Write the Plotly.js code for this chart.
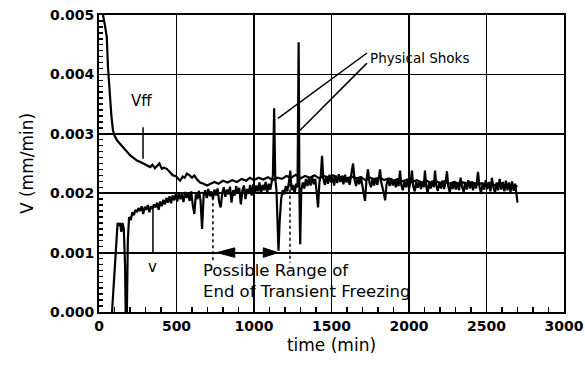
<!DOCTYPE html>
<html>
<head>
<meta charset="utf-8">
<script src="https://cdn.plot.ly/plotly-3.0.1.min.js"></script>
<style>
  html, body { margin: 0; padding: 0; background: #fff; }
  #chart { width: 585px; height: 371px; }
</style>
</head>
<body>
<div id="chart"></div>
<script>
// Freezing-front velocity Vff (mm/min) versus time (min)
const vffTime = [0, 15, 26, 40, 50, 58, 65, 71, 80, 90, 100, 116, 135, 155, 175, 200, 220, 245, 270, 290,
  310, 330, 345, 360, 375, 390, 405, 420, 437, 455, 477, 495, 510, 523, 540, 553, 567, 585, 600, 615,
  630, 652, 675, 697, 720, 745, 770, 800, 830, 860, 890, 920, 950, 974, 1000, 1030, 1060, 1090, 1120, 1150,
  1180, 1210, 1240, 1270, 1300, 1330, 1360, 1390, 1420, 1450, 1480, 1510, 1540, 1570, 1600, 1630, 1660, 1690,
  1720, 1750, 1780, 1810, 1840, 1870, 1900, 1930, 1960, 1990, 2020, 2050, 2080, 2110, 2140, 2170, 2200, 2230,
  2260, 2290, 2320, 2350, 2380, 2410, 2440, 2470, 2500, 2530, 2560, 2590, 2620, 2650, 2680, 2700];
const vffValue = [0.0052, 0.0051, 0.0050, 0.0048, 0.00463, 0.00412, 0.0038, 0.00356, 0.0033, 0.00306, 0.00297,
  0.00289, 0.00283, 0.00277, 0.00272, 0.00264, 0.0026, 0.00255, 0.00252, 0.00249,
  0.00247, 0.00244, 0.00248, 0.00242, 0.00246, 0.0025, 0.00241, 0.00243, 0.00241, 0.00236, 0.0023, 0.00229,
  0.00225, 0.00221, 0.00228, 0.00226, 0.00233, 0.0023, 0.00226, 0.0023,
  0.00224, 0.00218, 0.00216, 0.00213, 0.00216, 0.00219, 0.00216, 0.00221, 0.00218, 0.00222, 0.00219, 0.00224,
  0.00221, 0.00226, 0.00222, 0.00226, 0.00223, 0.00227, 0.00222, 0.00226,
  0.00224, 0.00229, 0.00226, 0.00231, 0.00225, 0.00229, 0.00226, 0.0023, 0.00225, 0.00229, 0.00226, 0.0023,
  0.00225, 0.00228, 0.00224, 0.00228, 0.00225, 0.00227,
  0.00222, 0.00226, 0.00223, 0.00227, 0.00222, 0.00225, 0.00221, 0.00224, 0.0022, 0.00223, 0.00219, 0.00222,
  0.00218, 0.00221, 0.00218, 0.00221, 0.00217, 0.0022,
  0.00216, 0.00219, 0.00216, 0.00218, 0.00215, 0.00218, 0.00214, 0.00217, 0.00214, 0.00216, 0.00213, 0.00215,
  0.00212, 0.00214, 0.00211, 0.00212];

// Measured velocity V (mm/min) versus time (min)
const vTime = [84, 100, 112, 120, 128, 136, 144, 152, 160, 168, 172, 180, 186, 194, 205, 215, 225, 235, 245, 255,
  265, 275, 285, 295, 305, 315, 325, 335, 345, 355, 365, 375, 385, 395, 405, 415, 425, 435, 445, 455,
  465, 475, 485, 495, 505, 515, 525, 535, 545, 555, 565, 575, 585, 595, 605, 615, 625, 635, 645, 655,
  665, 675, 685, 695, 705, 715, 725, 735, 745, 755, 765, 775, 785, 795, 805, 815, 825, 835, 845, 855,
  865, 875, 885, 895, 905, 915, 925, 935, 945, 955, 965, 975, 985, 995, 1005, 1015, 1025, 1035, 1045, 1055,
  1065, 1075, 1085, 1095, 1105, 1115, 1122, 1130, 1137, 1145, 1152, 1158, 1165, 1175, 1185, 1195, 1205, 1215, 1225, 1234,
  1242, 1252, 1262, 1272, 1281, 1288, 1293, 1298, 1305, 1315, 1325, 1335, 1345, 1355, 1365, 1375, 1385, 1395, 1405, 1413,
  1422, 1431, 1439, 1447, 1457, 1467, 1477, 1487, 1497, 1507, 1517, 1527, 1537, 1547, 1557, 1567, 1577, 1587, 1597, 1607,
  1617, 1627, 1639, 1649, 1659, 1669, 1679, 1689, 1699, 1708, 1716, 1725, 1735, 1745, 1755, 1765, 1775, 1785, 1795, 1805,
  1813, 1821, 1830, 1838, 1846, 1855, 1865, 1875, 1885, 1895, 1905, 1915, 1925, 1933, 1942, 1950, 1960, 1970, 1980, 1990,
  2000, 2010, 2019, 2027, 2037, 2047, 2057, 2067, 2077, 2087, 2095, 2103, 2111, 2120, 2130, 2140, 2150, 2160, 2168, 2176,
  2186, 2196, 2206, 2216, 2226, 2236, 2245, 2253, 2263, 2273, 2283, 2293, 2303, 2313, 2323, 2333, 2343, 2353, 2363, 2373,
  2383, 2393, 2403, 2413, 2423, 2433, 2445, 2455, 2465, 2475, 2485, 2495, 2505, 2515, 2525, 2535, 2545, 2555, 2565, 2575,
  2585, 2595, 2605, 2615, 2625, 2635, 2645, 2655, 2665, 2675, 2685, 2692, 2700];
const vValue = [0, 0.0006, 0.0011, 0.0015, 0.00145, 0.0015, 0.00135, 0.0015, 0.0014, 0.0008, 0, 0, 0.0012, 0.0016,
  0.00155, 0.00168, 0.00163, 0.00172, 0.00168, 0.00175,
  0.0017, 0.00178, 0.00165, 0.00177, 0.00172, 0.0018, 0.00168, 0.00178, 0.00174, 0.00181, 0.00176, 0.00184,
  0.00172, 0.00186, 0.00178, 0.00189, 0.00181, 0.00192, 0.00184, 0.00195,
  0.00183, 0.00196, 0.00188, 0.00199, 0.00186, 0.00201, 0.0019, 0.00198, 0.00185, 0.00202, 0.00192, 0.002,
  0.00187, 0.00203, 0.0018, 0.00165, 0.00198, 0.0019, 0.00204, 0.00188,
  0.0014, 0.00196, 0.00205, 0.00192, 0.00207, 0.00195, 0.00203, 0.0019, 0.00206, 0.00196, 0.00208, 0.00185,
  0.00176, 0.002, 0.0021, 0.00194, 0.00206, 0.00198, 0.00211, 0.00184,
  0.00205, 0.00196, 0.00212, 0.00199, 0.00209, 0.00181, 0.00204, 0.00213, 0.0019, 0.00207, 0.00199, 0.00214,
  0.00196, 0.00215, 0.002, 0.00213, 0.00203, 0.00218, 0.00199, 0.00214,
  0.00205, 0.00219, 0.00201, 0.00216, 0.00206, 0.0022, 0.0023, 0.00343, 0.00225, 0.00205, 0.0015, 0.00103,
  0.0015, 0.0019, 0.00205, 0.00198, 0.00212, 0.00203, 0.00218, 0.00238,
  0.00205, 0.00214, 0.002, 0.00216, 0.0021, 0.00454, 0.002, 0.00114, 0.00205, 0.00218, 0.00208, 0.00224,
  0.00212, 0.00226, 0.00213, 0.00228, 0.00215, 0.00224, 0.002, 0.00176,
  0.00218, 0.0023, 0.00263, 0.00225, 0.00214, 0.00229, 0.00216, 0.00231, 0.00218, 0.00227, 0.00213, 0.0023,
  0.00217, 0.00232, 0.00219, 0.00228, 0.00215, 0.00231, 0.00218, 0.00227,
  0.00214, 0.00232, 0.0025, 0.00222, 0.00212, 0.00226, 0.00215, 0.00228, 0.00214, 0.00205, 0.00187, 0.0022,
  0.0024, 0.00218, 0.0021, 0.00224, 0.00213, 0.00226, 0.00214, 0.00225,
  0.0024, 0.00218, 0.0021, 0.002, 0.00188, 0.00215, 0.00223, 0.00212, 0.00225, 0.00213, 0.00222, 0.0021,
  0.00224, 0.00212, 0.00238, 0.00214, 0.00205, 0.0022, 0.0021, 0.00222,
  0.00208, 0.00218, 0.00238, 0.00212, 0.00203, 0.00219, 0.00209, 0.00221, 0.00207, 0.0022, 0.0021, 0.00238,
  0.00212, 0.002, 0.00218, 0.00208, 0.00221, 0.0021, 0.00238, 0.00213,
  0.00204, 0.00219, 0.00208, 0.00221, 0.00207, 0.00218, 0.00237, 0.00212, 0.00201, 0.00218, 0.00207, 0.0022,
  0.00206, 0.00219, 0.00205, 0.00226, 0.0021, 0.00202, 0.00219, 0.00206,
  0.00222, 0.00208, 0.0022, 0.00205, 0.00218, 0.00208, 0.00236, 0.00211, 0.002, 0.00217, 0.00206, 0.00222,
  0.00207, 0.00219, 0.00203, 0.00226, 0.00209, 0.00201, 0.00218, 0.00205,
  0.00224, 0.00206, 0.00219, 0.00203, 0.00221, 0.00205, 0.00218, 0.00202, 0.0022, 0.00204, 0.00216, 0.002, 0.00184];

// Axis ticks: major labels and minor tick spacing
const xTicks = [0, 500, 1000, 1500, 2000, 2500, 3000];
const yTicks = [0, 0.001, 0.002, 0.003, 0.004, 0.005];
const xMinorStep = 100;
const yMinorStep = 0.0001;

// Range of the end of transient freezing, marked at v = 0.001
const rangeStart = 761;
const rangeEnd = 1155;
const rangeLevel = 0.001;

const ink = '#000';
const tickFont = { family: 'DejaVu Sans', size: 14, color: ink, weight: 'bold' };
const textFont = { family: 'DejaVu Sans', size: 16.5, color: ink };

const traces = [
  { x: vffTime, y: vffValue, type: 'scatter', mode: 'lines', name: 'Vff',
    line: { color: ink, width: 2.2 }, hoverinfo: 'skip' },
  { x: vTime, y: vValue, type: 'scatter', mode: 'lines', name: 'V',
    line: { color: ink, width: 2.2 }, hoverinfo: 'skip' }
];

// small filled arrowhead, tip at (tipX, level), pointing away from the base
function arrowHead(tipX, baseX, level) {
  const h = 0.00008;
  return {
    type: 'path', xref: 'x', yref: 'y',
    path: `M ${tipX},${level} L ${baseX},${level + h} L ${baseX},${level - h} Z`,
    fillcolor: ink, line: { color: ink, width: 1 }
  };
}

const layout = {
  width: 585, height: 371,
  margin: { l: 99, r: 21, t: 15, b: 59 },
  paper_bgcolor: '#fff', plot_bgcolor: '#fff',
  showlegend: false,
  xaxis: {
    range: [0, 3000], tickmode: 'linear', tick0: xTicks[0], dtick: xTicks[1] - xTicks[0],
    showgrid: true, gridcolor: ink, gridwidth: 1.8, zeroline: false,
    showline: true, linecolor: ink, linewidth: 2, mirror: true,
    ticks: 'inside', ticklen: 5, tickcolor: ink, tickwidth: 1.5,
    minor: { tickmode: 'linear', tick0: 0, dtick: xMinorStep, ticks: 'inside', ticklen: 5,
             tickcolor: ink, tickwidth: 1.5, showgrid: false },
    tickfont: tickFont,
    title: { text: 'time (min)', font: { family: 'DejaVu Sans', size: 17, color: ink }, standoff: 6 }
  },
  yaxis: {
    range: [0, 0.005], tickmode: 'linear', tick0: yTicks[0], dtick: yTicks[1] - yTicks[0], tickformat: '.3f',
    showgrid: true, gridcolor: ink, gridwidth: 1.8, zeroline: false,
    showline: true, linecolor: ink, linewidth: 2, mirror: true,
    ticks: 'inside', ticklen: 4, tickcolor: ink, tickwidth: 1.5,
    minor: { tickmode: 'linear', tick0: 0, dtick: yMinorStep, ticks: 'inside', ticklen: 4,
             tickcolor: ink, tickwidth: 1.5, showgrid: false },
    tickfont: tickFont,
    title: { text: 'V (mm/min)', font: { family: 'DejaVu Sans', size: 17, color: ink }, standoff: 12 }
  },
  shapes: [
    // pointer lines from the series labels
    { type: 'line', xref: 'x', yref: 'y', x0: 284, x1: 284, y0: 0.00311, y1: 0.00258, line: { color: ink, width: 1.5 } },
    { type: 'line', xref: 'x', yref: 'y', x0: 348, x1: 348, y0: 0.00100, y1: 0.00175, line: { color: ink, width: 1.5 } },
    // leader lines to the two shocks
    { type: 'line', xref: 'x', yref: 'y', x0: 1155, x1: 1729, y0: 0.00326, y1: 0.00436, line: { color: ink, width: 1.5 } },
    { type: 'line', xref: 'x', yref: 'y', x0: 1297, x1: 1729, y0: 0.00306, y1: 0.00419, line: { color: ink, width: 1.5 } },
    // bounds of the transient-freezing range
    { type: 'line', xref: 'x', yref: 'y', x0: 735, x1: 735, y0: 0.00193, y1: 0.00083, line: { color: ink, width: 1.5, dash: 'dot' } },
    { type: 'line', xref: 'x', yref: 'y', x0: 1232, x1: 1232, y0: 0.00216, y1: 0.00083, line: { color: ink, width: 1.5, dash: 'dot' } },
    // arrowheads on the range shaft
    arrowHead(rangeStart, rangeStart + 115, rangeLevel),
    arrowHead(rangeEnd, rangeEnd - 95, rangeLevel)
  ],
  annotations: [
    { x: 277, y: 0.00356, xref: 'x', yref: 'y', text: 'Vff', showarrow: false, font: { family: 'DejaVu Sans', size: 15, color: ink } },
    { x: 342, y: 0.00076, xref: 'x', yref: 'y', text: 'v', showarrow: false, font: { family: 'DejaVu Sans', size: 15, color: ink } },
    { x: 1735, y: 0.00427, xref: 'x', yref: 'y', text: 'Physical Shoks', showarrow: false, xanchor: 'left',
      font: { family: 'DejaVu Sans', size: 13.5, color: ink } },
    { x: 660, y: 0.00052, xref: 'x', yref: 'y', text: 'Possible Range of<br>End of Transient Freezing',
      showarrow: false, xanchor: 'left', align: 'left', font: textFont }
  ]
};

Plotly.newPlot('chart', traces, layout, { staticPlot: true, displayModeBar: false });
</script>
</body>
</html>
